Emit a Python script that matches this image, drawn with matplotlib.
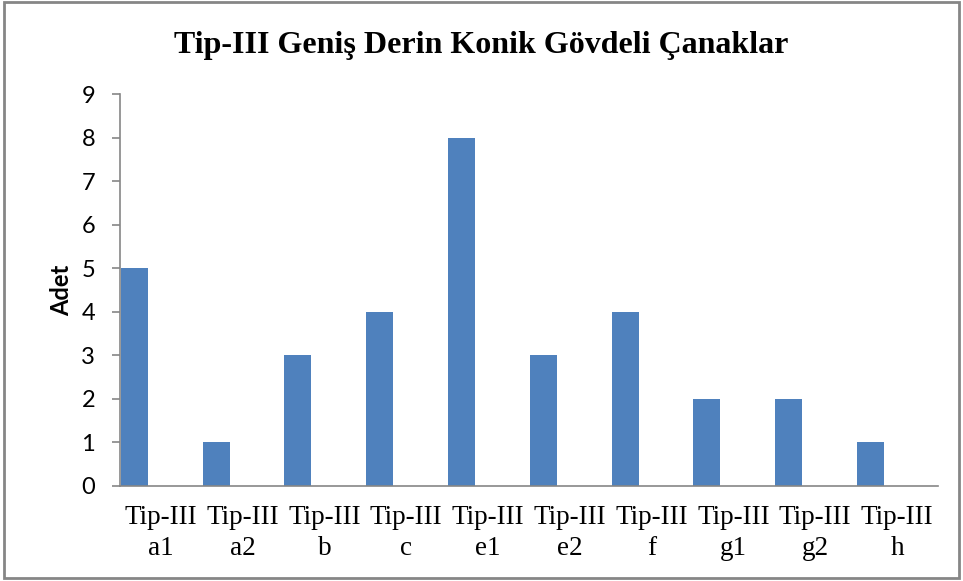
import matplotlib
matplotlib.use("Agg")
import matplotlib.pyplot as plt
import numpy as np

# Tip-III alt tipleri ve adetleri
categories = ["Tip-III\na1", "Tip-III\na2", "Tip-III\nb", "Tip-III\nc", "Tip-III\ne1",
              "Tip-III\ne2", "Tip-III\nf", "Tip-III\ng1", "Tip-III\ng2", "Tip-III\nh"]
counts = [5, 1, 3, 4, 8, 3, 4, 2, 2, 1]
yticks = list(range(0, 10))

fig = plt.figure(figsize=(9.63, 5.81), dpi=100)
ax = fig.add_axes([120 / 963, 1 - 486 / 581, (938 - 120) / 963, (486 - 94) / 581])

x = np.arange(len(categories))
ax.bar(x + 0.01, counts, width=0.33, align="edge", color="#4F81BD", zorder=2)

ax.set_xlim(0, len(categories))
ax.set_ylim(0, 9)
ax.set_xticks(x + 0.5)
ax.set_xticklabels(categories, family="Liberation Serif", fontsize=19.5, linespacing=1.3)
ax.set_yticks(yticks)
ax.set_yticklabels([str(v) for v in yticks], family="Lato", fontsize=17)
ax.tick_params(axis="x", length=0, pad=14)
ax.tick_params(axis="y", length=6, width=1.2, color="#868686", pad=12)

for s in ["top", "right"]:
    ax.spines[s].set_visible(False)
for s in ["left", "bottom"]:
    ax.spines[s].set_color("#868686")
    ax.spines[s].set_linewidth(1.2)

ax.set_ylabel("Adet", family="Lato", fontweight="bold", fontsize=17, labelpad=6)

fig.text(0.5, 1 - 45 / 581, "Tip-III Geniş Derin Konik Gövdeli Çanaklar",
         ha="center", va="center", family="Liberation Serif", fontweight="bold", fontsize=23)

# çerçeve
fig.patches.append(plt.Rectangle((0.004, 0.006), 0.992, 0.99, transform=fig.transFigure,
                                 fill=False, edgecolor="#868686", linewidth=2))

fig.savefig("out.png", dpi=100)
